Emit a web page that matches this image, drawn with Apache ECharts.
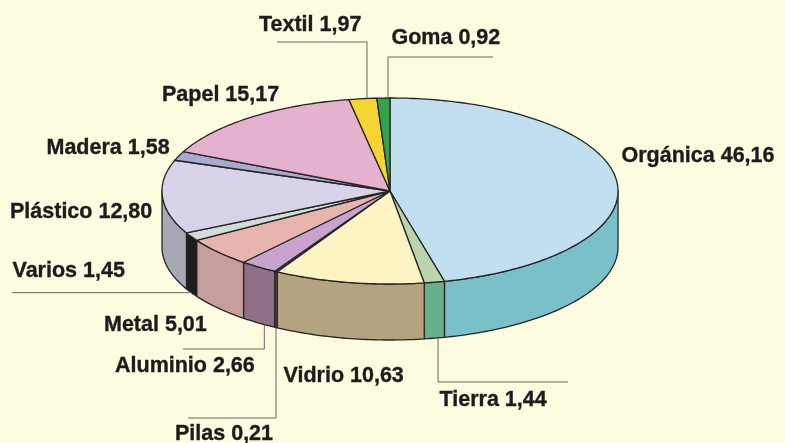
<!DOCTYPE html>
<html>
<head>
<meta charset="utf-8">
<script src="https://cdn.jsdelivr.net/npm/echarts@6/dist/echarts.min.js"></script>
<style>
html,body{margin:0;padding:0;background:#fdfbe0;}
#chart{width:785px;height:443px;}
</style>
</head>
<body>
<div id="chart"></div>
<script>
// ---- data ----
const categories = ['Orgánica','Tierra','Vidrio','Pilas','Aluminio','Metal','Varios','Plástico','Madera','Papel','Textil','Goma'];
const values = [46.16, 1.44, 10.63, 0.21, 2.66, 5.01, 1.45, 12.80, 1.58, 15.17, 1.97, 0.92];

// ---- styles ----
const topColors  = ['#c2dff0','#bcd5ae','#fcf5c3','#6e4f74','#c9a2cd','#e7b5ad','#d3dcd8','#d8d3e9','#aaa9ce','#e4b2cf','#f4d532','#33a24c'];
const sideColors = ['#79c0c8','#66b08b','#b3a47f','#5a4058','#8f6f88','#c59e9d','#1d1d1d','#a9a6b5','#8f8fae','#b98aa4','#c7ab22','#24803a'];
const EDGE = '#262626';
const TEXT = '#1c1c1c';
const LEADER = '#6b6666';
const FONT = 'bold 21.5px "Liberation Sans", Arial, sans-serif';

// ---- layout ----
const P = {cx: 390, cy: 191, rx: 228, ry: 93, depth: 56};
// label left x and text baseline y
const labelLayout = [
  [621.5,163],[439.5,406.5],[283.5,382.5],[175,441],[115,372.5],[104,331.5],
  [12.5,277.5],[10,218.5],[46.5,155],[162,101.5],[259,31.5],[391.5,44.5]
];
// leader lines: anchor rim ('top' | 'bottom'), position within slice, elbow y (null = same as anchor), end x
const leaders = {
  10: {rim:'top', at:0.65, elbowY:42, endX:277},
  11: {rim:'top', at:0.85, elbowY:57, endX:493},
  6:  {rim:'bottom', at:0.5, elbowY:null, endX:12},
  4:  {rim:'bottom', at:0.32, elbowY:349, endX:183},
  3:  {rim:'bottom', at:0.5, elbowY:418, endX:188},
  1:  {rim:'bottom', at:0.32, elbowY:382, endX:568}
};

const total = values.reduce((s, v) => s + v, 0);
const starts = [];
values.reduce((acc, v) => { starts.push(acc); return acc + v; }, 0);

function pt(theta, dy) {
  return [P.cx + P.rx * Math.sin(theta), P.cy - P.ry * Math.cos(theta) + (dy || 0)];
}
function arc(a, b, dy) {
  const n = Math.max(2, Math.ceil((b - a) / (Math.PI / 180)));
  const pts = [];
  for (let k = 0; k <= n; k++) pts.push(pt(a + (b - a) * k / n, dy));
  return pts;
}
function fmt(v) { return v.toFixed(2).replace('.', ','); }

function renderItem(params, api) {
  const i = params.dataIndex;
  const v = api.value(0);
  const a = starts[i] / total * 2 * Math.PI;
  const b = (starts[i] + v) / total * 2 * Math.PI;
  const children = [];
  const sa = Math.max(a, Math.PI / 2), sb = Math.min(b, 3 * Math.PI / 2);
  if (sb > sa) {
    const top = arc(sa, sb, 0), bot = arc(sa, sb, P.depth).reverse();
    children.push({type: 'polygon', shape: {points: top.concat(bot)},
      style: {fill: sideColors[i], stroke: EDGE, lineWidth: 1.3, lineJoin: 'round'}});
  }
  children.push({type: 'polygon', shape: {points: [[P.cx, P.cy]].concat(arc(a, b, 0))},
    style: {fill: topColors[i], stroke: EDGE, lineWidth: 1.3, lineJoin: 'round'}});
  const ld = leaders[i];
  if (ld) {
    const th = a + (b - a) * ld.at;
    const anc = pt(th, ld.rim === 'bottom' ? P.depth : 0);
    const ey = ld.elbowY == null ? anc[1] : ld.elbowY;
    children.push({type: 'polyline', shape: {points: [anc, [anc[0], ey], [ld.endX, ey]]},
      style: {stroke: LEADER, lineWidth: 1, fill: null}, z2: 5});
  }
  const L = labelLayout[i];
  children.push({type: 'text', z2: 10, style: {
    text: categories[i] + ' ' + fmt(v), x: L[0], y: L[1] - 6.7,
    font: FONT, fill: TEXT, stroke: TEXT, lineWidth: 0.35,
    align: 'left', verticalAlign: 'middle'}});
  return {type: 'group', children: children};
}

const chart = echarts.init(document.getElementById('chart'));
chart.setOption({
  backgroundColor: '#fdfbe0',
  animation: false,
  series: [{
    type: 'custom',
    coordinateSystem: 'none',
    renderItem: renderItem,
    data: values
  }]
});
</script>
</body>
</html>
